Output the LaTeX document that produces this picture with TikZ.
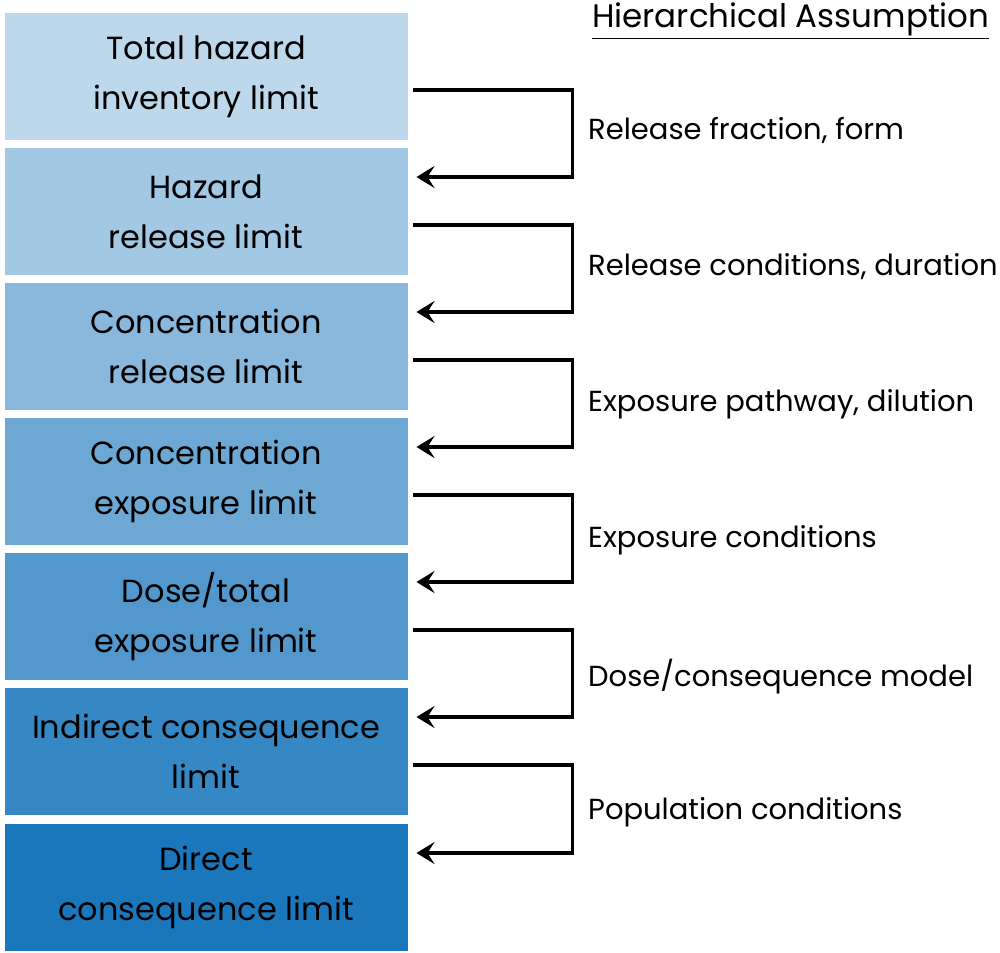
\documentclass[tikz,border=0pt]{standalone}
\usepackage{fontspec}
\setmainfont{Poppins}
\usetikzlibrary{arrows.meta}
\definecolor{lvA}{HTML}{BDD7EB}
\definecolor{lvB}{HTML}{A3C8E3}
\definecolor{lvC}{HTML}{89B8DC}
\definecolor{lvD}{HTML}{6DA7D4}
\definecolor{lvE}{HTML}{5298CC}
\definecolor{lvF}{HTML}{3688C4}
\definecolor{lvG}{HTML}{1B77BC}
\begin{document}
\begin{tikzpicture}[x=1pt,y=-1pt,
  level/.style={draw=white, line width=1pt, minimum width=404pt, minimum height=128pt,
    inner sep=0pt, align=center, font=\fontsize{32}{50}\selectfont, text=black},
  conn/.style={line width=3.2pt, -{Stealth[length=18pt, width=22pt, inset=7pt]}},
  why/.style={anchor=west, font=\fontsize{29}{36}\selectfont, inner sep=0pt}]
\useasboundingbox (0,0) rectangle (1000,952);
% stacked limit levels
\node[level, fill=lvA] (b1) at (206,76.5)  {Total hazard\\inventory limit};
\node[level, fill=lvB] (b2) at (206,211.5) {Hazard\\release limit};
\node[level, fill=lvC] (b3) at (206,346.5) {Concentration\\release limit};
\node[level, fill=lvD] (b4) at (206,481.5) {Concentration\\exposure limit};
\node[level, fill=lvE] (b5) at (206,616.5) {Dose/total\\exposure limit};
\node[level, fill=lvF] (b6) at (206,751.5) {Indirect consequence\\limit};
\node[level, fill=lvG] (b7) at (206,887.5) {Direct\\consequence limit};
% heading
\node[anchor=base west, inner sep=0pt, font=\fontsize{32.5}{38}\selectfont] (hd) at (592,28) {\underline{Hierarchical Assumption}};
% assumptions between levels
\node[why] (a1) at (588,130) {Release fraction, form};
\node[why] (a2) at (588,267) {Release conditions, duration};
\node[why] (a3) at (588,404) {Exposure pathway, dilution};
\node[why] (a4) at (588,540) {Exposure conditions};
\node[why] (a5) at (588,677) {Dose/consequence model};
\node[why] (a6) at (588,812) {Population conditions};
% step-down connectors
\foreach \u/\l in {b1/b2, b2/b3, b3/b4, b4/b5, b5/b6, b6/b7}{
  \draw[conn] ([shift={(4,13.5)}]\u.east) -- ++(160,0) |- ([shift={(8,-34.5)}]\l.east);
}
\end{tikzpicture}
\end{document}
